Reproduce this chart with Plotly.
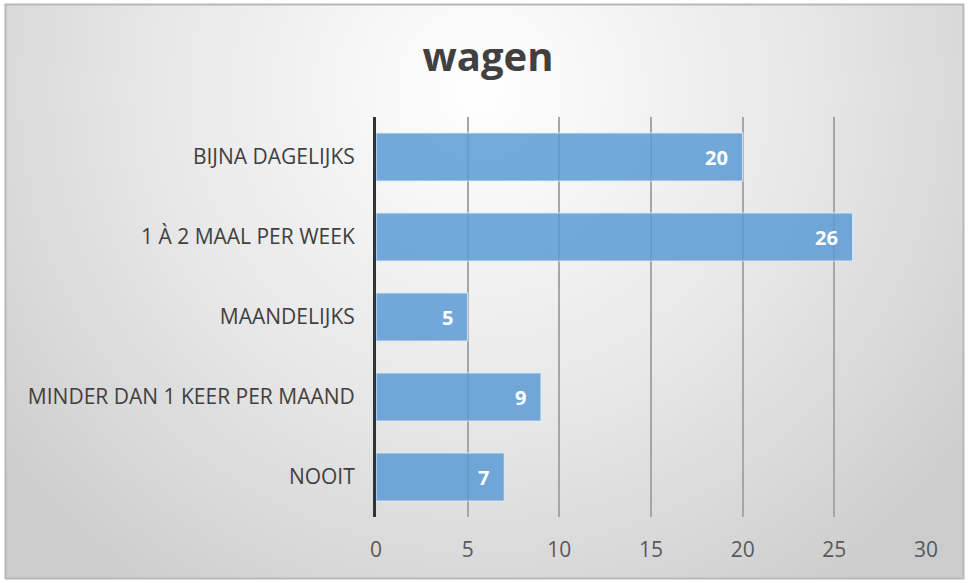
import base64
import plotly.graph_objects as go

categories = ["BIJNA DAGELIJKS", "1 À 2 MAAL PER WEEK", "MAANDELIJKS",
              "MINDER DAN 1 KEER PER MAAND", "NOOIT"]
values = [20, 26, 5, 9, 7]
x_ticks = [0, 5, 10, 15, 20, 25, 30]
title_text = "wagen"

W, H = 969, 583
ML, MR, MT, MB = 376, 43, 117, 66
PW, PH = W - ML - MR, H - MT - MB

svg = f'''<svg xmlns="http://www.w3.org/2000/svg" width="{W}" height="{H}" viewBox="0 0 {W} {H}">
<defs><radialGradient id="g" cx="480" cy="90" r="620" gradientUnits="userSpaceOnUse">
<stop offset="0" stop-color="#ffffff"/><stop offset="0.55" stop-color="#e6e6e6"/><stop offset="1" stop-color="#cccccc"/>
</radialGradient></defs>
<rect x="0" y="0" width="{W}" height="{H}" fill="#ffffff"/>
<rect x="5.5" y="4.5" width="{W-11}" height="{H-9}" fill="url(#g)" stroke="#b8b8b8" stroke-width="2"/>
</svg>'''
src = "data:image/svg+xml;base64," + base64.b64encode(svg.encode()).decode()

fig = go.Figure(go.Bar(
    x=values, y=categories, orientation="h", width=0.6,
    marker=dict(color="rgba(91,155,213,0.85)", line=dict(color="rgba(220,235,250,0.9)", width=1.2)),
    hoverinfo="x+y",
))

for cat, v in zip(categories, values):
    fig.add_annotation(x=v, y=cat, xref="x", yref="y", text=str(v), showarrow=False,
                       xanchor="right", xshift=-13, yanchor="middle",
                       font=dict(family="Open Sans", size=20, color="white", weight="bold"))

fig.update_layout(
    width=W, height=H,
    margin=dict(l=ML, r=MR, t=MT, b=MB),
    paper_bgcolor="white", plot_bgcolor="rgba(0,0,0,0)",
    title=dict(text=title_text, x=488 / W, xanchor="center", y=1 - 57 / H, yanchor="middle",
               font=dict(family="Open Sans", size=40, color="#404040", weight="bold")),
    showlegend=False,
    images=[dict(source=src, xref="paper", yref="paper", x=-ML / PW, y=1 + MT / PH,
                 sizex=W / PW, sizey=H / PH, xanchor="left", yanchor="top",
                 sizing="stretch", layer="below")],
    xaxis=dict(range=[0, 30], tickvals=x_ticks, showgrid=True, gridcolor="#a6a6a6", gridwidth=1.5,
               zeroline=False, showline=False, ticks="outside", ticklen=14,
               tickcolor="rgba(0,0,0,0)",
               tickfont=dict(family="Open Sans", size=21, color="#595959")),
    yaxis=dict(categoryorder="array", categoryarray=categories, autorange="reversed",
               showgrid=False, showline=True, linecolor="#333333", linewidth=3,
               ticks="outside", ticklen=14, tickcolor="rgba(0,0,0,0)",
               tickfont=dict(family="Open Sans", size=21, color="#404040")),
)

fig.write_html("out.html", config={"displayModeBar": False},
               post_script="document.body.style.margin='0';")
